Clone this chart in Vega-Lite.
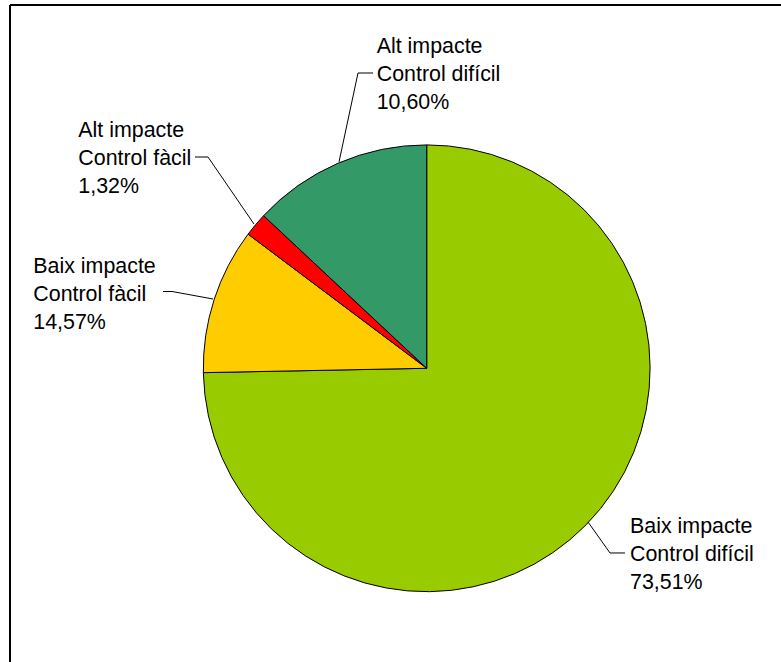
{
  "$schema": "https://vega.github.io/schema/vega-lite/v6.json",
  "width": 771,
  "height": 657,
  "padding": {"left": 10, "top": 5, "right": 0, "bottom": 0},
  "autosize": {"type": "none"},
  "background": "white",
  "config": {
    "view": {"stroke": "#000000", "strokeWidth": 2, "strokeDash": [771, 1428, 657, 0]}
  },
  "datasets": {
    "slices": [
      {"segment": "Baix impacte - Control difícil", "ord": 1, "value": 74.69},
      {"segment": "Baix impacte - Control fàcil", "ord": 2, "value": 10.56},
      {"segment": "Alt impacte - Control fàcil", "ord": 3, "value": 1.72},
      {"segment": "Alt impacte - Control difícil", "ord": 4, "value": 13.03}
    ],
    "leaders": [
      {"segment": "Alt impacte - Control difícil", "i": 0, "x": -0.3926, "y": 0.9235},
      {"segment": "Alt impacte - Control difícil", "i": 1, "x": -0.3075, "y": 1.3218},
      {"segment": "Alt impacte - Control difícil", "i": 2, "x": -0.2404, "y": 1.3218},
      {"segment": "Alt impacte - Control fàcil", "i": 0, "x": -0.7731, "y": 0.6459},
      {"segment": "Alt impacte - Control fàcil", "i": 1, "x": -0.9790, "y": 0.9458},
      {"segment": "Alt impacte - Control fàcil", "i": 2, "x": -1.0372, "y": 0.9458},
      {"segment": "Baix impacte - Control fàcil", "i": 0, "x": -0.9566, "y": 0.3102},
      {"segment": "Baix impacte - Control fàcil", "i": 1, "x": -1.1401, "y": 0.3438},
      {"segment": "Baix impacte - Control fàcil", "i": 2, "x": -1.1804, "y": 0.3438},
      {"segment": "Baix impacte - Control difícil", "i": 0, "x": 0.7220, "y": -0.6880},
      {"segment": "Baix impacte - Control difícil", "i": 1, "x": 0.8205, "y": -0.8267},
      {"segment": "Baix impacte - Control difícil", "i": 2, "x": 0.8876, "y": -0.8267}
    ],
    "labels": [
      {"segment": "Alt impacte - Control difícil", "label": "Alt impacte\nControl difícil\n10,60%", "x": -0.2238, "y": 1.4100},
      {"segment": "Alt impacte - Control fàcil", "label": "Alt impacte\nControl fàcil\n1,32%", "x": -1.5595, "y": 1.0367},
      {"segment": "Baix impacte - Control fàcil", "label": "Baix impacte\nControl fàcil\n14,57%", "x": -1.7610, "y": 0.4279},
      {"segment": "Baix impacte - Control difícil", "label": "Baix impacte\nControl difícil\n73,51%", "x": 0.9100, "y": -0.7386}
    ]
  },
  "layer": [
    {
      "data": {"name": "slices"},
      "mark": {"type": "arc", "outerRadius": 223.4, "stroke": "#000000", "strokeWidth": 1},
      "encoding": {
        "theta": {"field": "value", "type": "quantitative", "stack": true},
        "order": {"field": "ord", "type": "quantitative"},
        "color": {
          "field": "segment",
          "type": "nominal",
          "scale": {
            "domain": ["Baix impacte - Control difícil", "Baix impacte - Control fàcil", "Alt impacte - Control fàcil", "Alt impacte - Control difícil"],
            "range": ["#99CC00", "#FFCC00", "#FF0000", "#339966"]
          },
          "legend": null
        },
        "x": {"datum": 0, "type": "quantitative", "scale": {"domain": [-1.8653, 1.5859], "nice": false, "zero": false}, "axis": null},
        "y": {"datum": 0, "type": "quantitative", "scale": {"domain": [-1.3147, 1.6262], "nice": false, "zero": false}, "axis": null}
      }
    },
    {
      "data": {"name": "leaders"},
      "mark": {"type": "line", "color": "#000000", "strokeWidth": 1},
      "encoding": {
        "x": {"field": "x", "type": "quantitative", "axis": null},
        "y": {"field": "y", "type": "quantitative", "axis": null},
        "detail": {"field": "segment", "type": "nominal"},
        "order": {"field": "i", "type": "quantitative"}
      }
    },
    {
      "data": {"name": "labels"},
      "mark": {"type": "text", "align": "left", "baseline": "alphabetic", "lineBreak": "\n", "lineHeight": 28, "font": "Liberation Sans", "fontSize": 21.4, "color": "#000000"},
      "encoding": {
        "x": {"field": "x", "type": "quantitative", "axis": null},
        "y": {"field": "y", "type": "quantitative", "axis": null},
        "text": {"field": "label", "type": "nominal"}
      }
    }
  ]
}
